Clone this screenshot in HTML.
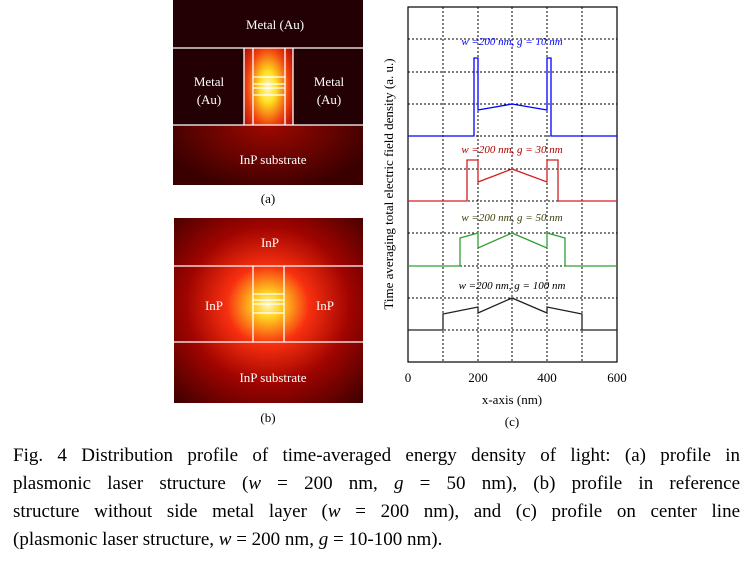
<!DOCTYPE html>
<html><head><meta charset="utf-8"><style>
body{margin:0;background:#fff;width:754px;height:566px;overflow:hidden;position:relative;font-family:"Liberation Serif",serif}
.l{position:absolute;left:13px;width:727px;font-size:19px;line-height:28px;white-space:nowrap;text-align:justify;text-align-last:justify;color:#000}
</style></head><body>
<svg width="754" height="440" style="position:absolute;left:0;top:0" font-family="Liberation Serif, serif">
<defs>
<radialGradient id="ga" cx="268" cy="87" r="70" gradientUnits="userSpaceOnUse" gradientTransform="translate(268 87) scale(0.6 1.1) translate(-268 -87)">
<stop offset="0" stop-color="#fff8d0"/><stop offset="0.2" stop-color="#ffe020"/><stop offset="0.5" stop-color="#f04010"/><stop offset="0.8" stop-color="#a00000"/><stop offset="1" stop-color="#600000"/></radialGradient>
<radialGradient id="gs" cx="268" cy="125" r="110" gradientUnits="userSpaceOnUse" gradientTransform="translate(268 125) scale(1 0.6) translate(-268 -125)">
<stop offset="0" stop-color="#a00800"/><stop offset="1" stop-color="#3a0000"/></radialGradient>
<radialGradient id="gb" cx="268" cy="305" r="130" gradientUnits="userSpaceOnUse" gradientTransform="translate(268 305) scale(1.05 1) translate(-268 -305)">
<stop offset="0" stop-color="#fff8c0"/><stop offset="0.1" stop-color="#ffd020"/><stop offset="0.3" stop-color="#f83010"/><stop offset="0.6" stop-color="#a00400"/><stop offset="1" stop-color="#400000"/></radialGradient>
</defs>
<rect x="173" y="0" width="190" height="185" fill="url(#gs)"/>
<rect x="173" y="0" width="190" height="48" fill="#220003"/>
<rect x="173" y="48" width="71" height="77" fill="#220003"/>
<rect x="293" y="48" width="70" height="77" fill="#220003"/>
<rect x="244" y="48" width="49" height="77" fill="url(#ga)"/>
<g stroke="#fff" stroke-width="1.3" fill="none">
<line x1="173" y1="48" x2="363" y2="48"/><line x1="173" y1="125" x2="363" y2="125"/>
<line x1="244" y1="48" x2="244" y2="125"/><line x1="253" y1="48" x2="253" y2="125"/>
<line x1="285" y1="48" x2="285" y2="125"/><line x1="293" y1="48" x2="293" y2="125"/>
<line x1="253" y1="77" x2="285" y2="77"/><line x1="253" y1="84" x2="285" y2="84"/>
<line x1="253" y1="88" x2="285" y2="88"/><line x1="253" y1="95" x2="285" y2="95"/>
</g>
<g fill="#fff" font-size="13" text-anchor="middle">
<text x="275" y="29">Metal (Au)</text>
<text x="209" y="86">Metal</text><text x="209" y="104">(Au)</text>
<text x="329" y="86">Metal</text><text x="329" y="104">(Au)</text>
<text x="273" y="164">InP substrate</text>
</g>
<text x="268" y="203" font-size="13" text-anchor="middle">(a)</text>
<rect x="174" y="218" width="189" height="185" fill="url(#gb)"/>
<g stroke="#fff" stroke-width="1.3" fill="none">
<line x1="174" y1="266" x2="363" y2="266"/><line x1="174" y1="342" x2="363" y2="342"/>
<line x1="253" y1="266" x2="253" y2="342"/><line x1="284" y1="266" x2="284" y2="342"/>
<line x1="253" y1="294" x2="284" y2="294"/><line x1="253" y1="300" x2="284" y2="300"/>
<line x1="253" y1="304" x2="284" y2="304"/><line x1="253" y1="313" x2="284" y2="313"/>
</g>
<g fill="#fff" font-size="13" text-anchor="middle">
<text x="270" y="247">InP</text><text x="214" y="310">InP</text><text x="325" y="310">InP</text>
<text x="273" y="382">InP substrate</text>
</g>
<text x="268" y="422" font-size="13" text-anchor="middle">(b)</text>
<g stroke="#000" stroke-width="1" stroke-dasharray="2,2">
<line x1="408" y1="39" x2="617" y2="39"/><line x1="408" y1="72" x2="617" y2="72"/>
<line x1="408" y1="104" x2="617" y2="104"/><line x1="408" y1="136" x2="617" y2="136"/>
<line x1="408" y1="169" x2="617" y2="169"/><line x1="408" y1="201" x2="617" y2="201"/>
<line x1="408" y1="233" x2="617" y2="233"/><line x1="408" y1="266" x2="617" y2="266"/>
<line x1="408" y1="298" x2="617" y2="298"/><line x1="408" y1="330" x2="617" y2="330"/>
<line x1="443" y1="7" x2="443" y2="362"/><line x1="478" y1="7" x2="478" y2="362"/>
<line x1="512" y1="7" x2="512" y2="362"/><line x1="547" y1="7" x2="547" y2="362"/>
<line x1="582" y1="7" x2="582" y2="362"/>
</g>
<rect x="408" y="7" width="209" height="355" fill="none" stroke="#000" stroke-width="1.2"/>
<g fill="none" stroke-width="1.3">
<polyline stroke="#0000ff" points="408,136 474,136 474,58 478,58 478,110 512,104 547,110 547,58 551,58 551,136 617,136"/>
<polyline stroke="#d02020" points="408,201 467,201 467,160 478,160 478,182 512,169 547,182 547,160 558,160 558,201 617,201"/>
<polyline stroke="#30a030" points="408,266 460,266 460,238 478,233 478,248 512,233 547,248 547,233 565,238 565,266 617,266"/>
<polyline stroke="#202020" points="408,330 443,330 443,314 478,307 478,313 512,298 547,313 547,307 582,314 582,330 617,330"/>
</g>
<g font-size="11" text-anchor="middle" font-style="italic">
<text x="512" y="45" fill="#0000ff">w =200 nm, g = 10 nm</text>
<text x="512" y="153" fill="#b00000">w =200 nm, g = 30 nm</text>
<text x="512" y="221" fill="#404010">w =200 nm, g = 50 nm</text>
<text x="512" y="289" fill="#000">w =200 nm, g = 100 nm</text>
</g>
<g font-size="13" text-anchor="middle">
<text x="408" y="382">0</text><text x="478" y="382">200</text><text x="547" y="382">400</text><text x="617" y="382">600</text>
<text x="512" y="404">x-axis (nm)</text>
<text x="512" y="426">(c)</text>
<text transform="translate(393 184) rotate(-90)">Time averaging total electric field density (a. u.)</text>
</g>
</svg>
<div class="l" style="top:442px">Fig. 4 Distribution profile of time-averaged energy density of light: (a) profile in</div>
<div class="l" style="top:470px">plasmonic laser structure (<i>w</i> = 200 nm, <i>g</i> = 50 nm), (b) profile in reference</div>
<div class="l" style="top:498px">structure without side metal layer (<i>w</i> = 200 nm), and (c) profile on center line</div>
<div class="l" style="top:526px;text-align-last:left">(plasmonic laser structure, <i>w</i> = 200 nm, <i>g</i> = 10-100 nm).</div>
</body></html>
